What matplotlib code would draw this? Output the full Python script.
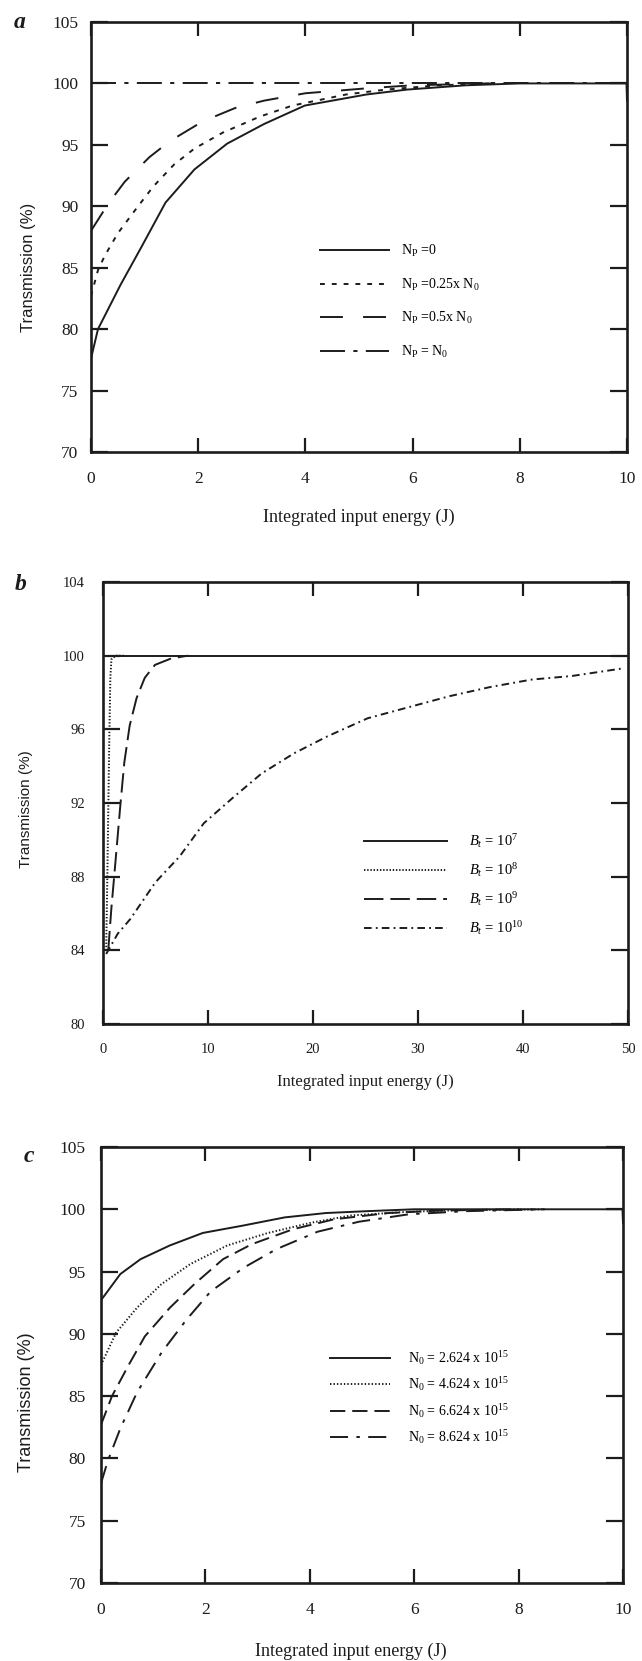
import matplotlib
matplotlib.use('Agg')
import matplotlib.pyplot as plt

plt.rcParams.update({
    'font.family': ['Liberation Serif', 'DejaVu Serif'],
    'mathtext.fontset': 'custom',
    'mathtext.rm': 'Liberation Serif',
    'mathtext.it': 'Liberation Serif:italic',
    'mathtext.bf': 'Liberation Serif:bold',
    'lines.scale_dashes': False,
})

INK = '#1c1c1c'

# ---------------- data: panel a ----------------
a_x_np0 = [0, 0.13, 0.55, 0.93, 1.39, 1.93, 2.54, 3.23, 3.99, 5.14, 5.9, 7.0, 8.0, 9.0, 9.99, 10.0]
a_y_np0 = [77.6, 80.0, 83.6, 86.6, 90.3, 93.0, 95.1, 96.7, 98.2, 99.1, 99.5, 99.85, 100, 100, 100, 98.6]
a_x_np025 = [0, 0.13, 0.26, 0.5, 0.86, 1.16, 1.55, 1.93, 2.46, 3.15, 3.76, 4.76, 5.5, 6.5, 7.5]
a_y_np025 = [82.7, 84.8, 86.0, 87.8, 89.9, 91.6, 93.4, 94.7, 96.0, 97.3, 98.2, 99.1, 99.5, 99.85, 100]
a_x_np05 = [0, 0.32, 0.63, 1.09, 1.47, 2.08, 2.69, 3.23, 4.0, 5.14, 6.0, 7.5]
a_y_np05 = [88.0, 90.2, 92.0, 94.0, 95.3, 96.9, 98.0, 98.6, 99.2, 99.6, 99.85, 100]
a_x_npn0 = [0, 10]
a_y_npn0 = [100, 100]
a_labels = [r'N$_{\mathrm{P}}$ =0', r'N$_{\mathrm{P}}$ =0.25x N$_0$',
            r'N$_{\mathrm{P}}$ =0.5x N$_0$', r'N$_{\mathrm{P}}$ = N$_0$']
a_xticks = [0, 2, 4, 6, 8, 10]
a_yticks = [70, 75, 80, 85, 90, 95, 100, 105]

# ---------------- data: panel b ----------------
b_x_b7 = [0, 50]
b_y_b7 = [100, 100]
b_x_b8 = [0.3, 0.4, 0.5, 0.6, 0.7, 0.8, 1.2, 2.0]
b_y_b8 = [84.0, 87.5, 91.5, 95.5, 98.8, 99.8, 100, 100]
b_x_b9 = [0.5, 0.8, 1.17, 1.64, 2.03, 2.54, 3.2, 3.98, 4.95, 6.5, 8.1]
b_y_b9 = [84.0, 86.3, 88.7, 91.8, 94.2, 96.2, 97.7, 98.8, 99.5, 99.85, 100]
b_x_b10 = [0.3, 1.4, 2.6, 5.0, 7.3, 9.6, 12.4, 15.1, 18.2, 21.3, 25.2, 29.1, 33.0, 36.9, 40.8, 44.7, 49.4]
b_y_b10 = [83.8, 84.9, 85.7, 87.7, 89.1, 90.9, 92.3, 93.6, 94.7, 95.6, 96.6, 97.2, 97.8, 98.3, 98.7, 98.9, 99.3]
b_labels = [r'$B_t$ = 10$^7$', r'$B_t$ = 10$^8$', r'$B_t$ = 10$^9$', r'$B_t$ = 10$^{10}$']
b_xticks = [0, 10, 20, 30, 40, 50]
b_yticks = [80, 84, 88, 92, 96, 100, 104]

# ---------------- data: panel c ----------------
c_x_n1 = [0, 0.37, 0.76, 1.32, 1.95, 2.73, 3.52, 4.31, 5.1, 6.0, 7.0, 9.99, 10.0]
c_y_n1 = [92.7, 94.8, 96.0, 97.1, 98.1, 98.7, 99.35, 99.7, 99.85, 100, 100, 100, 98.9]
c_x_n2 = [0, 0.29, 0.69, 1.16, 1.71, 2.42, 3.2, 4.0, 4.78, 5.9, 7.0, 8.5]
c_y_n2 = [87.5, 90.1, 92.1, 94.0, 95.6, 97.1, 98.1, 98.9, 99.5, 99.8, 99.95, 100]
c_x_n3 = [0, 0.21, 0.53, 0.84, 1.32, 1.79, 2.34, 2.89, 3.68, 4.47, 5.5, 6.5, 8.0]
c_y_n3 = [82.7, 85.0, 87.5, 89.8, 92.1, 94.0, 96.0, 97.2, 98.4, 99.2, 99.7, 99.9, 100]
c_x_n4 = [0, 0.13, 0.37, 0.69, 1.16, 1.63, 2.1, 2.73, 3.36, 4.15, 4.94, 5.9, 7.0, 8.5]
c_y_n4 = [78.0, 79.8, 82.4, 85.3, 88.5, 91.1, 93.4, 95.3, 96.8, 98.2, 99.0, 99.6, 99.85, 100]
c_labels = [r'N$_0$ = 2.624 x 10$^{15}$', r'N$_0$ = 4.624 x 10$^{15}$',
            r'N$_0$ = 6.624 x 10$^{15}$', r'N$_0$ = 8.624 x 10$^{15}$']
c_xticks = [0, 2, 4, 6, 8, 10]
c_yticks = [70, 75, 80, 85, 90, 95, 100, 105]

XLABEL = 'Integrated input energy (J)'
YLABEL = 'Transmission (%)'

W, H = 642, 1661
fig = plt.figure(figsize=(W / 100, H / 100), dpi=100)


def add_axes(l, r, t, b):
    return fig.add_axes([l / W, 1 - b / H, (r - l) / W, (b - t) / H])


def style(ax, xlim, xticks, ylim, yticks, tick_fs, ypad, xpad, xlab_fs, ylab_fs,
          ylab_xy, xlab_xy):
    ax.set_xlim(*xlim)
    ax.set_ylim(*ylim)
    ax.set_xticks(xticks)
    ax.set_yticks(yticks)
    ax.tick_params(axis='both', direction='in', top=True, right=True, width=1.6,
                   color=INK, labelcolor=INK, labelsize=tick_fs)
    ax.tick_params(axis='y', length=12, pad=ypad)
    ax.tick_params(axis='x', length=10, pad=xpad)
    for s in ax.spines.values():
        s.set_linewidth(1.9)
        s.set_color(INK)
    ax.set_xlabel(XLABEL, fontsize=xlab_fs, color=INK)
    ax.xaxis.set_label_coords(*xlab_xy)
    ax.xaxis.label.set_va('center')
    ax.set_ylabel(YLABEL, fontsize=ylab_fs, color=INK, family=['Liberation Sans', 'DejaVu Sans'])
    ax.yaxis.set_label_coords(*ylab_xy)
    ax.yaxis.label.set_va('center')


LW = 1.4

# ---------- panel a ----------
axa = add_axes(91, 627, 22, 452)
axa.plot(a_x_np0, a_y_np0, color=INK, lw=LW, ls='-', label=a_labels[0])
axa.plot(a_x_np025, a_y_np025, color=INK, lw=LW, ls=(0, (3.5, 5)), label=a_labels[1])
axa.plot(a_x_np05, a_y_np05, color=INK, lw=LW, ls=(0, (16.5, 14.5)), label=a_labels[2])
axa.plot(a_x_npn0, a_y_npn0, color=INK, lw=LW, ls=(0, (18, 6, 3, 6)), label=a_labels[3])
style(axa, (0, 10), a_xticks, (70, 105), a_yticks, 12.5, 9, 14, 13, 12,
      (-0.116, 0.43), (0.5, -0.153))
axa.legend(loc='upper left', bbox_to_anchor=(0.427, 0.486), frameon=False, fontsize=10,
           handlelength=5.0, handletextpad=0.86, labelspacing=1.25, borderpad=0,
           borderaxespad=0)

# ---------- panel b ----------
axb = add_axes(103, 628, 582, 1024)
axb.plot(b_x_b7, b_y_b7, color=INK, lw=LW, ls='-', label=b_labels[0])
axb.plot(b_x_b8, b_y_b8, color=INK, lw=LW, ls=(0, (1, 1.3)), label=b_labels[1])
axb.plot(b_x_b9, b_y_b9, color=INK, lw=LW, ls=(0, (14, 5)), label=b_labels[2])
axb.plot(b_x_b10, b_y_b10, color=INK, lw=LW, ls=(0, (5.5, 3, 1.3, 3)), label=b_labels[3])
style(axb, (0, 50), b_xticks, (80, 104), b_yticks, 10.5, 13, 14, 12, 11,
      (-0.146, 0.486), (0.5, -0.131))
axb.legend(loc='upper left', bbox_to_anchor=(0.497, 0.434), frameon=False, fontsize=10.5,
           handlelength=5.7, handletextpad=1.5, labelspacing=0.75, borderpad=0,
           borderaxespad=0)

# ---------- panel c ----------
axc = add_axes(101, 623, 1147, 1583)
axc.plot(c_x_n1, c_y_n1, color=INK, lw=LW, ls='-', label=c_labels[0])
axc.plot(c_x_n2, c_y_n2, color=INK, lw=LW, ls=(0, (1, 1.5)), label=c_labels[1])
axc.plot(c_x_n3, c_y_n3, color=INK, lw=LW, ls=(0, (11, 5)), label=c_labels[2])
axc.plot(c_x_n4, c_y_n4, color=INK, lw=LW, ls=(0, (13, 6, 2.5, 6)), label=c_labels[3])
style(axc, (0, 10), c_xticks, (70, 105), c_yticks, 12.5, 11, 14, 13, 13,
      (-0.143, 0.415), (0.479, -0.156))
axc.legend(loc='upper left', bbox_to_anchor=(0.439, 0.537), frameon=False, fontsize=10,
           handlelength=4.3, handletextpad=1.3, labelspacing=0.6, borderpad=0,
           borderaxespad=0)

# panel letters
for (px, py), letter in zip([(20, 22), (21, 584), (29, 1156)], ['a', 'b', 'c']):
    fig.text(px / W, 1 - py / H, letter, fontsize=17, fontweight='bold', fontstyle='italic',
             ha='center', va='center', color=INK)

fig.savefig('out.png', dpi=100, facecolor='white')
